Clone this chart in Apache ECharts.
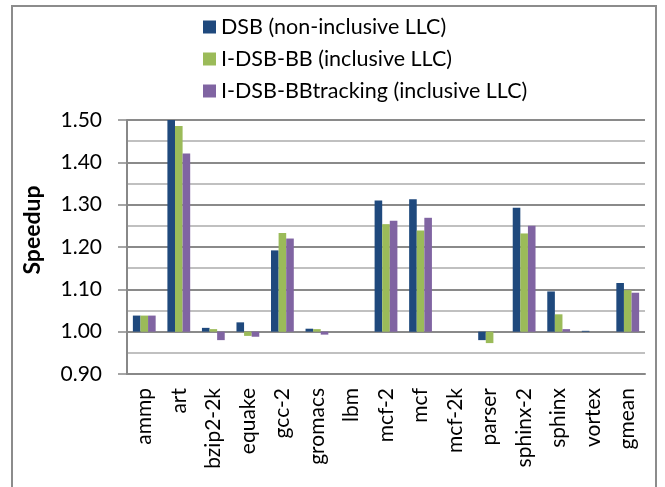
<!DOCTYPE html>
<html>
<head>
<meta charset="utf-8">
<script src="https://cdn.jsdelivr.net/npm/echarts@6/dist/echarts.min.js"></script>
<style>
html,body{margin:0;padding:0;background:#fff;}
#chart{width:665px;height:487px;}
</style>
</head>
<body>
<div id="chart"></div>
<script>
const categories = ['ammp','art','bzip2-2k','equake','gcc-2','gromacs','lbm','mcf-2','mcf','mcf-2k','parser','sphinx-2','sphinx','vortex','gmean'];
const seriesNames = ['DSB (non-inclusive LLC)','I-DSB-BB (inclusive LLC)','I-DSB-BBtracking (inclusive LLC)'];
const dsb        = [1.038, 1.500, 1.009, 1.022, 1.192, 1.007, 1.000, 1.310, 1.313, 1.000, 0.980, 1.293, 1.095, 1.002, 1.115];
const idsbBB     = [1.038, 1.486, 1.006, 0.990, 1.233, 1.006, 1.000, 1.254, 1.239, 1.000, 0.973, 1.232, 1.041, 1.000, 1.098];
const idsbTrack  = [1.038, 1.421, 0.980, 0.988, 1.220, 0.993, 1.000, 1.262, 1.269, 1.000, 1.000, 1.250, 1.006, 1.000, 1.092];
const yTicks = [0.90, 1.00, 1.10, 1.20, 1.30, 1.40, 1.50];
const baseline = 1.00;
const colors = ['#1F497D', '#9BBB59', '#8064A2'];

const font = 'Lato, "Open Sans", sans-serif';
const toRel = arr => arr.map(v => +(v - baseline).toFixed(4));
const yMin = +(yTicks[0] - baseline).toFixed(4);
const yMax = +(yTicks[yTicks.length - 1] - baseline).toFixed(4);

const chart = echarts.init(document.getElementById('chart'), null, {renderer: 'canvas'});
chart.setOption({
  animation: false,
  backgroundColor: '#fff',
  color: colors,
  graphic: [{
    type: 'rect',
    shape: {x: 12, y: 6, width: 644, height: 490},
    style: {fill: 'none', stroke: '#8c8c8c', lineWidth: 2},
    silent: true, z: -1
  }],
  legend: {
    orient: 'vertical',
    left: 198,
    top: 11,
    itemWidth: 13,
    itemHeight: 13,
    itemGap: 10,
    icon: 'rect',
    textStyle: {fontFamily: font, fontSize: 21.5, color: '#000'},
    data: seriesNames
  },
  grid: {left: 127, right: 20, top: 120, bottom: 113, containLabel: false},
  xAxis: {
    type: 'category',
    data: categories,
    axisLine: {onZero: false, lineStyle: {color: '#888', width: 2}},
    axisTick: {show: false},
    axisLabel: {rotate: 90, margin: 14, fontFamily: font, fontSize: 21, color: '#000', interval: 0}
  },
  yAxis: {
    type: 'value',
    min: yMin,
    max: yMax,
    interval: 0.1,
    name: 'Speedup',
    nameLocation: 'middle',
    nameGap: 83,
    nameTextStyle: {fontFamily: font, fontSize: 23, fontWeight: 'bold', color: '#000',
      padding: [0, 0, 0, 34]},
    axisLine: {show: true, lineStyle: {color: '#888', width: 2}},
    axisTick: {show: true, length: 9, lineStyle: {color: '#888', width: 1.5}},
    axisLabel: {margin: 25, fontFamily: font, fontSize: 21, color: '#000',
      formatter: v => (v + baseline).toFixed(2)},
    splitLine: {show: true, lineStyle: {color: '#8a8a8a', width: 2}},
    minorTick: {show: false, splitNumber: 2},
    minorSplitLine: {show: true, lineStyle: {color: '#c0c0c0', width: 2}}
  },
  series: [
    {name: seriesNames[0], type: 'bar', data: toRel(dsb), barGap: '0%', barCategoryGap: '34%'},
    {name: seriesNames[1], type: 'bar', data: toRel(idsbBB), barGap: '0%', barCategoryGap: '34%'},
    {name: seriesNames[2], type: 'bar', data: toRel(idsbTrack), barGap: '0%', barCategoryGap: '34%'}
  ]
});
</script>
</body>
</html>
